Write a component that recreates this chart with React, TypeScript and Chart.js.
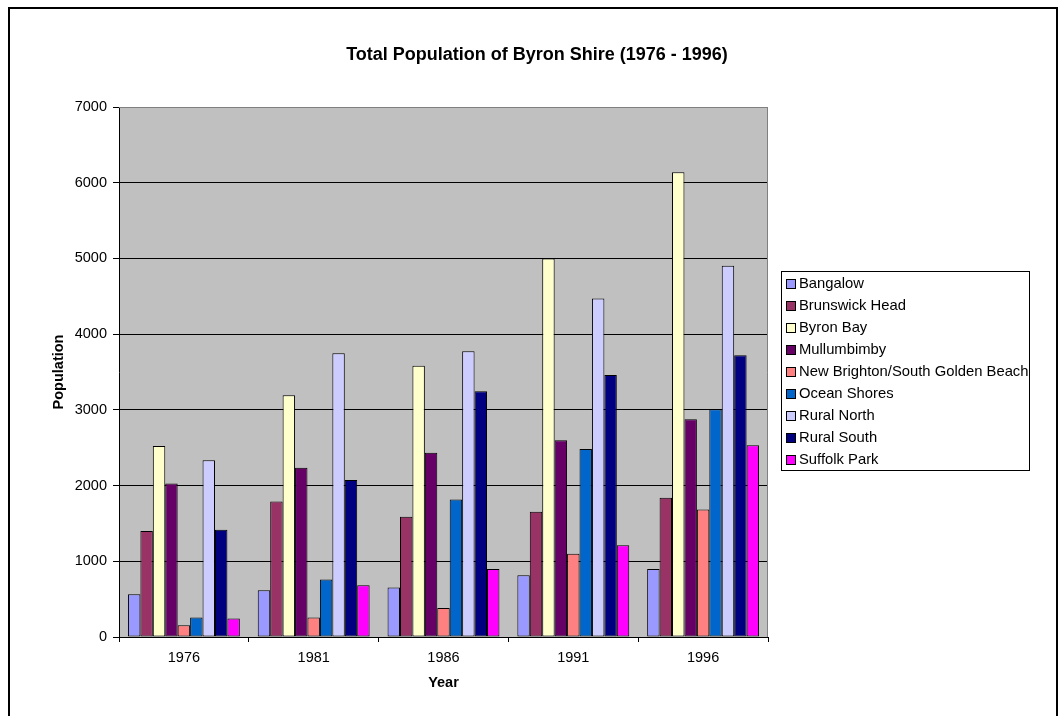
import { useEffect, useRef } from "react";
import { Chart, registerables } from "chart.js";

Chart.register(...registerables);

// Census years on the category axis
const years = ["1976", "1981", "1986", "1991", "1996"];

// Population of each locality per census year
const bangalow = [565, 618, 653, 816, 899];
const brunswickHead = [1400, 1790, 1587, 1653, 1839];
const byronBay = [2522, 3193, 3581, 5000, 6138];
const mullumbimby = [2029, 2235, 2434, 2598, 2876];
const newBrighton = [155, 257, 384, 1098, 1685];
const oceanShores = [257, 760, 1817, 2483, 3008];
const ruralNorth = [2333, 3748, 3775, 4471, 4903];
const ruralSouth = [1415, 2073, 3246, 3462, 3722];
const suffolkPark = [243, 684, 899, 1213, 2532];

const seriesNames = [
  "Bangalow",
  "Brunswick Head",
  "Byron Bay",
  "Mullumbimby",
  "New Brighton/South Golden Beach",
  "Ocean Shores",
  "Rural North",
  "Rural South",
  "Suffolk Park",
];
const seriesValues = [
  bangalow,
  brunswickHead,
  byronBay,
  mullumbimby,
  newBrighton,
  oceanShores,
  ruralNorth,
  ruralSouth,
  suffolkPark,
];
const seriesColors = [
  "#9999FF",
  "#993366",
  "#FFFFCC",
  "#660066",
  "#FF8080",
  "#0066CC",
  "#CCCCFF",
  "#000080",
  "#FF00FF",
];

// Value axis range
const yMin = 0;
const yMax = 7000;
const yStep = 1000;

const chartTitle = "Total Population of Byron Shire (1976 - 1996)";
const xTitle = "Year";
const yTitle = "Population";

const FONT = "'Liberation Sans', Arial, Helvetica, sans-serif";

// Page frame, grey plot background and plot border
const framePlugin = {
  id: "frame",
  beforeDraw(chart: any) {
    const { ctx, chartArea: a } = chart;
    ctx.save();
    ctx.fillStyle = "#ffffff";
    ctx.fillRect(0, 0, chart.width, chart.height);
    ctx.fillStyle = "#C0C0C0";
    ctx.fillRect(a.left, a.top, a.right - a.left, a.bottom - a.top);
    ctx.strokeStyle = "#000000";
    ctx.lineWidth = 2;
    ctx.strokeRect(9, 8, 1048, 760);
    ctx.restore();
  },
  beforeDatasetsDraw(chart: any) {
    const { ctx, chartArea: a } = chart;
    ctx.save();
    ctx.strokeStyle = "#808080";
    ctx.lineWidth = 1;
    ctx.beginPath();
    ctx.moveTo(a.left, Math.round(a.top) + 0.5);
    ctx.lineTo(Math.round(a.right) - 0.5, Math.round(a.top) + 0.5);
    ctx.lineTo(Math.round(a.right) - 0.5, a.bottom);
    ctx.stroke();
    ctx.restore();
  },
};

// Chart heading
const titlePlugin = {
  id: "heading",
  afterDraw(chart: any) {
    const { ctx } = chart;
    ctx.save();
    ctx.fillStyle = "#000000";
    ctx.font = `bold 18px ${FONT}`;
    ctx.textAlign = "center";
    ctx.textBaseline = "alphabetic";
    ctx.fillText(chartTitle, 537, 60);
    ctx.restore();
  },
};

// Boxed legend on the right
const legendPlugin = {
  id: "boxLegend",
  afterDraw(chart: any) {
    const { ctx } = chart;
    const x0 = 781;
    const y0 = 271;
    const w = 248;
    const h = 199;
    ctx.save();
    ctx.fillStyle = "#ffffff";
    ctx.fillRect(x0, y0, w, h);
    ctx.strokeStyle = "#000000";
    ctx.lineWidth = 1;
    ctx.strokeRect(x0 + 0.5, y0 + 0.5, w, h);
    ctx.font = `14.8px ${FONT}`;
    ctx.textAlign = "left";
    ctx.textBaseline = "middle";
    chart.data.datasets.forEach((ds: any, i: number) => {
      const cy = 284 + i * 22;
      const top = Math.round(cy - 5);
      ctx.fillStyle = ds.backgroundColor;
      ctx.fillRect(786, top, 10, 10);
      ctx.strokeStyle = "#000000";
      ctx.strokeRect(786.5, top + 0.5, 9, 9);
      ctx.fillStyle = "#000000";
      ctx.fillText(ds.label, 799, cy);
    });
    ctx.restore();
  },
};

export default function App() {
  const canvasRef = useRef<HTMLCanvasElement>(null);

  useEffect(() => {
    if (!canvasRef.current) return;
    const chart = new Chart(canvasRef.current, {
      type: "bar",
      data: {
        labels: years,
        datasets: seriesNames.map((name, i) => ({
          label: name,
          data: seriesValues[i],
          backgroundColor: seriesColors[i],
          borderColor: "#000000",
          borderWidth: 1,
          borderSkipped: false,
          categoryPercentage: 0.862,
          barPercentage: 1.0,
        })),
      },
      options: {
        responsive: false,
        maintainAspectRatio: false,
        animation: false,
        devicePixelRatio: 1,
        layout: {
          padding: { left: 10, top: 107, right: 292, bottom: 0 },
        },
        plugins: {
          legend: { display: false },
          tooltip: { enabled: false },
          title: { display: false },
        },
        scales: {
          x: {
            offset: true,
            afterFit(scale: any) {
              scale.height = 79;
            },
            grid: {
              display: true,
              drawOnChartArea: false,
              drawTicks: true,
              tickLength: 5,
              tickColor: "#000000",
              color: "#000000",
            },
            border: { display: true, color: "#000000", width: 1 },
            ticks: {
              color: "#000000",
              font: { family: FONT, size: 14.5 },
              padding: 7,
              maxRotation: 0,
            },
            title: {
              display: true,
              text: xTitle,
              color: "#000000",
              font: { family: FONT, size: 14.5, weight: "bold" },
              padding: { top: 0, bottom: 24 },
            },
          },
          y: {
            min: yMin,
            max: yMax,
            afterFit(scale: any) {
              scale.width = 109;
            },
            grid: {
              color: (c: any) => (c.tick && c.tick.value === yMax ? "#808080" : "#000000"),
              tickColor: "#000000",
              tickLength: 6,
              lineWidth: 1,
            },
            border: { display: true, color: "#000000", width: 1 },
            ticks: {
              stepSize: yStep,
              color: "#000000",
              font: { family: FONT, size: 14.5 },
              padding: 6,
              callback: (v: any) => String(v),
            },
            title: {
              display: true,
              text: yTitle,
              color: "#000000",
              font: { family: FONT, size: 14.5, weight: "bold" },
              padding: { top: 40, bottom: 0 },
            },
          },
        },
      },
      plugins: [framePlugin, titlePlugin, legendPlugin],
    });
    return () => chart.destroy();
  }, []);

  return (
    <div
      style={{
        position: "fixed",
        left: 0,
        top: 0,
        width: 1060,
        height: 716,
        background: "#ffffff",
      }}
    >
      <canvas
        ref={canvasRef}
        width={1060}
        height={716}
        style={{ display: "block", width: 1060, height: 716 }}
      />
    </div>
  );
}
